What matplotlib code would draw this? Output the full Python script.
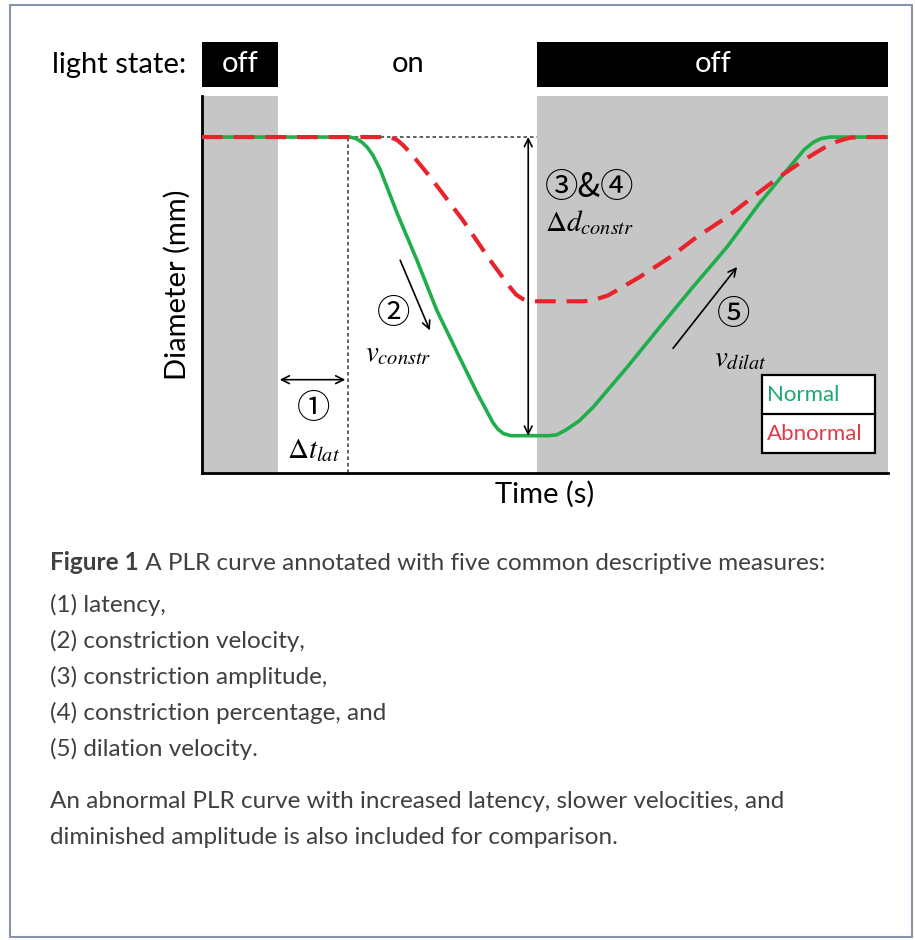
import matplotlib
matplotlib.use("Agg")
import matplotlib.pyplot as plt
from matplotlib.patches import Rectangle

plt.rcParams['font.family'] = ['Lato', 'DejaVu Sans']
plt.rcParams['mathtext.fontset'] = 'stix'

# light stimulus (s)
light_on = 1.0
light_off = 4.4
t_end = 9.0

# normal PLR curve (time s, diameter mm)
normal_t = [0.0, 1.94, 2.02, 2.10, 2.17, 2.24, 2.34, 2.56, 2.82, 3.08, 3.35,
            3.61, 3.72, 3.82, 3.88, 3.95, 4.05, 4.55, 4.65, 4.78, 4.95,
            5.13, 5.58, 6.01, 6.44, 6.89, 7.32, 7.75, 7.90, 8.02, 8.12,
            8.24, 9.0]
normal_d = [6.0, 6.0, 5.98, 5.93, 5.86, 5.76, 5.56, 4.98, 4.35, 3.68, 3.11,
            2.57, 2.36, 2.17, 2.09, 2.03, 2.0, 2.0, 2.01, 2.08, 2.20,
            2.38, 2.92, 3.46, 3.99, 4.53, 5.12, 5.65, 5.83, 5.93, 5.98,
            6.0, 6.0]

# abnormal PLR curve
abnormal_t = [0.0, 2.47, 2.56, 2.64, 2.75, 2.99, 3.42, 3.78, 4.04, 4.12,
              4.21, 4.30, 5.0, 5.15, 5.33, 5.75, 6.14, 6.49, 6.89, 7.23,
              7.58, 7.94, 8.15, 8.33, 8.50, 8.63, 9.0]
abnormal_d = [6.0, 6.0, 5.96, 5.89, 5.77, 5.47, 4.89, 4.35, 3.99, 3.89,
              3.83, 3.80, 3.80, 3.82, 3.88, 4.13, 4.39, 4.66, 4.93, 5.20,
              5.47, 5.72, 5.85, 5.94, 5.99, 6.0, 6.0]

baseline = 6.0
d_min = 2.0
latency_t = 1.92

caption_head = "Figure 1"
caption_first = " A PLR curve annotated with five common descriptive measures:"
caption_items = ["(1) latency,",
                 "(2) constriction velocity,",
                 "(3) constriction amplitude,",
                 "(4) constriction percentage, and",
                 "(5) dilation velocity."]
caption_tail = ["An abnormal PLR curve with increased latency, slower velocities, and",
                "diminished amplitude is also included for comparison."]

W, H = 915, 940
fig = plt.figure(figsize=(W / 100, H / 100), dpi=100)


def fx(px):
    return px / W


def fy(py):
    return 1 - py / H


grey = '#c6c6c6'
green = '#1fae4b'
red = '#e8232b'

# main axes
ax = fig.add_axes([fx(202), fy(473), fx(888) - fx(202), fy(96) - fy(473)])
ax.set_xlim(0, t_end)
ax.set_ylim(1.5, 6.55)
ax.axvspan(0, light_on, color=grey, lw=0, zorder=0)
ax.axvspan(light_off, t_end, color=grey, lw=0, zorder=0)

for s in ['top', 'right']:
    ax.spines[s].set_visible(False)
for s in ['left', 'bottom']:
    ax.spines[s].set_linewidth(2)
ax.set_xticks([])
ax.set_yticks([])

# guide lines
ax.plot([latency_t, latency_t], [1.5, baseline], color='#555555', lw=1.3,
        ls=(0, (2, 1.6)), zorder=2)
ax.plot([latency_t, light_off], [baseline, baseline], color='#555555', lw=1.3,
        ls=(0, (2, 1.6)), zorder=2)

ax.plot(normal_t, normal_d, color=green, lw=2.6, zorder=3,
        solid_capstyle='round', solid_joinstyle='round')
ax.plot(abnormal_t, abnormal_d, color=red, lw=3, ls=(0, (5, 2.6)), zorder=4)

arr = dict(arrowstyle='<->', color='black', lw=1.2, mutation_scale=14,
           shrinkA=0, shrinkB=0)
ax.annotate('', xy=(4.28, d_min), xytext=(4.28, baseline), arrowprops=arr)
ax.annotate('', xy=(1.02, 2.75), xytext=(1.88, 2.75), arrowprops=arr)
arr1 = dict(arrowstyle='->', color='black', lw=1.2, mutation_scale=14,
            shrinkA=0, shrinkB=0)
ax.annotate('', xy=(2.99, 3.41), xytext=(2.60, 4.35), arrowprops=arr1)
ax.annotate('', xy=(7.02, 4.26), xytext=(6.18, 3.17), arrowprops=arr1)

circ = ['Noto Sans CJK JP', 'DejaVu Sans']
ax.text(1.46, 2.36, '①', family=circ, fontsize=24, ha='center', va='center')
ax.text(1.46, 1.80, r'$\Delta t_{lat}$', fontsize=21, ha='center', va='center')
ax.text(2.51, 3.64, '②', family=circ, fontsize=24, ha='center', va='center')
ax.text(2.58, 3.10, r'$v_{constr}$', fontsize=21, ha='center', va='center')
ax.text(4.50, 5.32, '③&④', family=circ, fontsize=24, ha='left', va='center')
ax.text(4.50, 4.86, r'$\Delta d_{constr}$', fontsize=21, ha='left', va='center')
ax.text(6.97, 3.62, '⑤', family=circ, fontsize=24, ha='center', va='center')
ax.text(7.06, 3.03, r'$v_{dilat}$', fontsize=21, ha='center', va='center')

# legend box
lx0, lx1 = 0.816, 0.981
ly0, ly1, lym = 0.053, 0.26, 0.156
ax.add_patch(Rectangle((lx0, ly0), lx1 - lx0, ly1 - ly0, transform=ax.transAxes,
                       facecolor='white', edgecolor='black', lw=1.6, zorder=5))
ax.plot([lx0, lx1], [lym, lym], color='black', lw=1.6, transform=ax.transAxes,
        zorder=6)
ax.text(lx0 + 0.007, (lym + ly1) / 2, 'Normal', color='#1aa873', fontsize=16,
        transform=ax.transAxes, va='center', ha='left', zorder=7)
ax.text(lx0 + 0.007, (ly0 + lym) / 2, 'Abnormal', color='#e03a4a', fontsize=16,
        transform=ax.transAxes, va='center', ha='left', zorder=7)

ax.set_ylabel('Diameter (mm)', fontsize=21, labelpad=8)
ax.set_xlabel('Time (s)', fontsize=21, labelpad=6)

# light state bar
bar = fig.add_axes([fx(202), fy(87), fx(888) - fx(202), fy(42) - fy(87)])
bar.set_xlim(0, t_end)
bar.set_ylim(0, 1)
bar.axis('off')
bar.axvspan(0, light_on, color='black', lw=0)
bar.axvspan(light_off, t_end, color='black', lw=0)
bar.text(light_on / 2, 0.5, 'off', color='white', fontsize=21, ha='center', va='center')
bar.text((light_on + light_off) / 2, 0.5, 'on', color='black', fontsize=21,
         ha='center', va='center')
bar.text((light_off + t_end) / 2, 0.5, 'off', color='white', fontsize=21,
         ha='center', va='center')
fig.text(fx(186), fy(65), 'light state:', fontsize=21, ha='right', va='center')

# caption
cap_col = '#404040'
cap_fs = 17.5
head = fig.text(fx(50), fy(570), caption_head, fontsize=cap_fs, weight='bold',
                color=cap_col, ha='left', va='baseline')
ax.annotate(caption_first, xy=(1, 0), xycoords=head, fontsize=cap_fs, color=cap_col,
            ha='left', va='bottom', annotation_clip=False)
for i, line in enumerate(caption_items):
    fig.text(fx(50), fy(612 + 36 * i), line, fontsize=cap_fs, color=cap_col,
             ha='left', va='baseline')
for i, line in enumerate(caption_tail):
    fig.text(fx(50), fy(808 + 36 * i), line, fontsize=cap_fs, color=cap_col,
             ha='left', va='baseline')

# outer frame
fig.patches.append(Rectangle((fx(10), fy(937)), fx(912) - fx(10), fy(5) - fy(937),
                             transform=fig.transFigure, fill=False,
                             edgecolor='#8793a6', lw=1.5))

fig.savefig('out.png', dpi=100, facecolor='white')
